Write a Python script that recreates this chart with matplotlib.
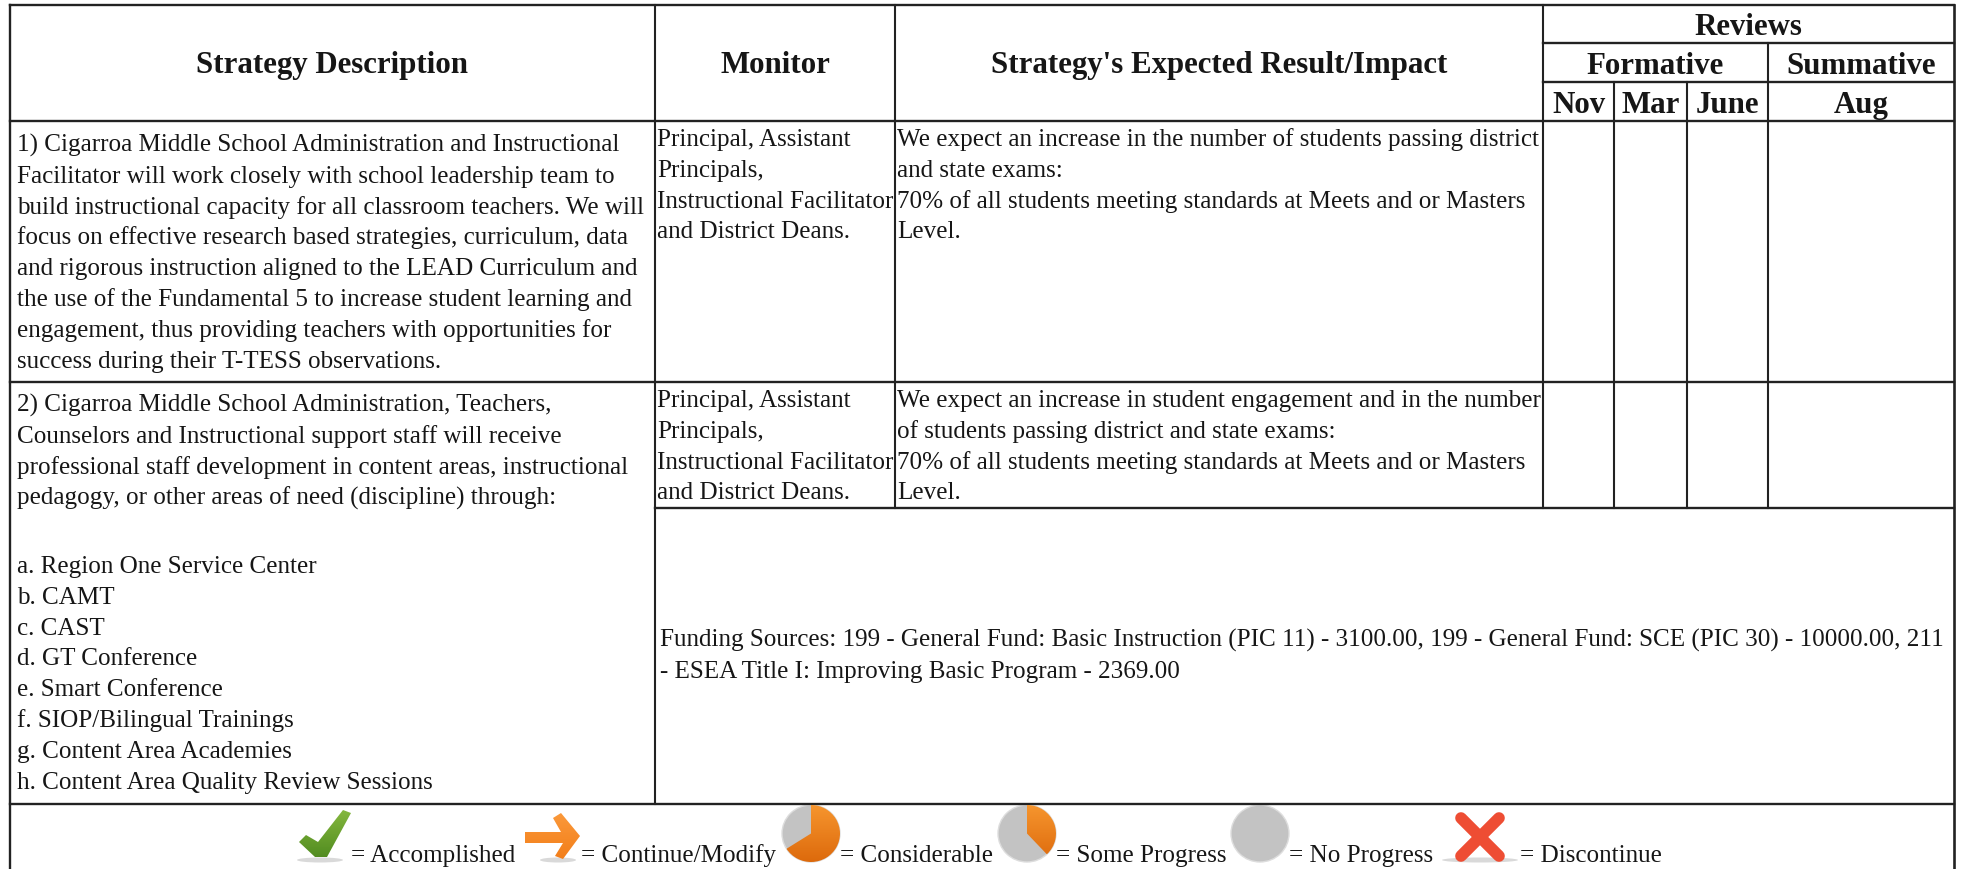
#!/usr/bin/env python
# -*- coding: utf-8 -*-
import numpy as np
import matplotlib
matplotlib.use('Agg')
import matplotlib.pyplot as plt
from matplotlib.colors import LinearSegmentedColormap
from matplotlib.patches import Ellipse, Wedge, Polygon
from matplotlib.transforms import Affine2D

W, H = 1961, 869

headers_main = ['Strategy Description', 'Monitor', "Strategy's Expected Result/Impact"]
header_reviews = 'Reviews'
header_groups = ['Formative', 'Summative']
header_months = ['Nov', 'Mar', 'June', 'Aug']

strategy_1 = [
    '1) Cigarroa Middle School Administration and Instructional',
    'Facilitator will work closely with school leadership team to',
    'build instructional capacity for all classroom teachers. We will',
    'focus on effective research based strategies, curriculum, data',
    'and rigorous instruction aligned to the LEAD Curriculum and',
    'the use of the Fundamental 5 to increase student learning and',
    'engagement, thus providing teachers with opportunities for',
    'success during their T-TESS observations.',
]
strategy_2 = [
    '2) Cigarroa Middle School Administration, Teachers,',
    'Counselors and Instructional support staff will receive',
    'professional staff development in content areas, instructional',
    'pedagogy, or other areas of need (discipline) through:',
]
strategy_2_list = [
    'a. Region One Service Center',
    'b. CAMT',
    'c. CAST',
    'd. GT Conference',
    'e. Smart Conference',
    'f. SIOP/Bilingual Trainings',
    'g. Content Area Academies',
    'h. Content Area Quality Review Sessions',
]
monitor = [
    'Principal, Assistant',
    'Principals,',
    'Instructional Facilitator',
    'and District Deans.',
]
impact_1 = [
    'We expect an increase in the number of students passing district',
    'and state exams:',
    '70% of all students meeting standards at Meets and or Masters',
    'Level.',
]
impact_2 = [
    'We expect an increase in student engagement and in the number',
    'of students passing district and state exams:',
    '70% of all students meeting standards at Meets and or Masters',
    'Level.',
]
funding = [
    'Funding Sources: 199 - General Fund: Basic Instruction (PIC 11) - 3100.00, 199 - General Fund: SCE (PIC 30) - 10000.00, 211',
    '- ESEA Title I: Improving Basic Program - 2369.00',
]
legend_labels = ['= Accomplished', '= Continue/Modify', '= Considerable',
                 '= Some Progress', '= No Progress', '= Discontinue']
pie_shares = [0.66, 0.38, 0.0]

# table grid, in pixels
X_LEFT, X_MON, X_IMP, X_REV, X_MAR, X_JUN, X_AUG, X_RIGHT = 10, 655, 895, 1543, 1614, 1687, 1768, 1954
Y_TOP, Y_REV, Y_FORM, Y_HEAD, Y_ROW1, Y_ROW2, Y_BOT = 5, 43, 82, 121, 382, 508, 804

BODY = 18.05
BOLD = 22.2
LEAD = 30.8
INK = '#161616'

plt.rcParams['font.family'] = ['Liberation Serif', 'DejaVu Serif']
fig = plt.figure(figsize=(W / 100, H / 100), dpi=100)
ax = fig.add_axes([0, 0, 1, 1])
ax.set_xlim(0, W)
ax.set_ylim(H, 0)
ax.axis('off')


def hline(y, x0, x1, lw=1.7):
    ax.plot([x0, x1], [y, y], color='#222222', lw=lw, solid_capstyle='projecting')


def vline(x, y0, y1, lw=1.5):
    ax.plot([x, x], [y0, y1], color='#222222', lw=lw, solid_capstyle='projecting')


def block(lines, x, y):
    for i, line in enumerate(lines):
        ax.text(x, y + i * LEAD, line, fontsize=BODY, color=INK, va='baseline', ha='left')


def bold(s, x, y):
    ax.text(x, y, s, fontsize=BOLD, fontweight='bold', color=INK, ha='center', va='baseline')


def grad_fill(patch, c_top, c_bot, box):
    # vertical gradient clipped to the patch
    x0, x1, y0, y1 = box
    cmap = LinearSegmentedColormap.from_list('g', [c_top, c_bot])
    ramp = np.linspace(0, 1, 64).reshape(-1, 1)
    patch.set_facecolor('none')
    patch.set_edgecolor('none')
    ax.add_patch(patch)
    im = ax.imshow(ramp, cmap=cmap, extent=(x0, x1, y1, y0), origin='upper', aspect='auto', zorder=2,
                   interpolation='bilinear')
    im.set_clip_path(patch)
    ax.set_xlim(0, W)
    ax.set_ylim(H, 0)


def shadow(x, y, w):
    ax.add_patch(Ellipse((x, y), w, 5, facecolor='#d0d0d0', edgecolor='none', alpha=0.8, zorder=1))


def check():
    shadow(320, 860, 46)
    pts = [(299, 842), (306, 835), (318, 842), (343, 810), (351, 813), (327, 857), (315, 857)]
    grad_fill(Polygon(pts, closed=True), '#86b93f', '#4f8a1f', (296, 354, 808, 860))


def arrow():
    shadow(558, 860, 36)
    pts = [(525, 832), (561, 832), (553, 818), (561, 813), (580, 836), (563, 859), (555, 856), (563, 843), (525, 843)]
    grad_fill(Polygon(pts, closed=True), '#fb9a3c', '#f27d18', (523, 582, 811, 861))


def pie(x, y, frac, w=58, h=57):
    # grey disc with an orange share going clockwise from the top
    ax.add_patch(Ellipse((x, y), w, h, facecolor='#c3c3c3', edgecolor='#dddddd', lw=1.0, zorder=1))
    if frac > 0:
        wedge = Wedge((0, 0), 1, -90, -90 + 360 * frac)
        wedge.set_transform(Affine2D().scale(w / 2, h / 2).translate(x, y) + ax.transData)
        grad_fill(wedge, '#f6952e', '#dd6a0c', (x - w / 2, x + w / 2, y - h / 2, y + h / 2))


def cross():
    shadow(1480, 860, 76)
    for x0, x1 in ((1461, 1499), (1499, 1461)):
        ax.plot([x0, x1], [818, 856], color='#ee4d33', lw=8.4, solid_capstyle='round', zorder=2)


# grid
hline(Y_TOP, X_LEFT, X_RIGHT)
hline(Y_REV, X_REV, X_RIGHT)
hline(Y_FORM, X_REV, X_RIGHT)
hline(Y_HEAD, X_LEFT, X_RIGHT)
hline(Y_ROW1, X_LEFT, X_RIGHT)
hline(Y_ROW2, X_MON, X_RIGHT)
hline(Y_BOT, X_LEFT, X_RIGHT)
vline(X_LEFT, Y_TOP, H, lw=1.7)
vline(X_RIGHT, Y_TOP, H, lw=1.9)
vline(X_MON, Y_TOP, Y_BOT)
vline(X_IMP, Y_TOP, Y_ROW2)
vline(X_REV, Y_TOP, Y_ROW2)
vline(X_AUG, Y_REV, Y_ROW2)
vline(X_MAR, Y_FORM, Y_ROW2)
vline(X_JUN, Y_FORM, Y_ROW2)

# header
bold(headers_main[0], (X_LEFT + X_MON) / 2, 73)
bold(headers_main[1], (X_MON + X_IMP) / 2, 73)
bold(headers_main[2], (X_IMP + X_REV) / 2, 73)
bold(header_reviews, (X_REV + X_RIGHT) / 2, 35)
bold(header_groups[0], (X_REV + X_AUG) / 2, 74)
bold(header_groups[1], (X_AUG + X_RIGHT) / 2, 74)
month_centers = [(X_REV + X_MAR) / 2, (X_MAR + X_JUN) / 2, (X_JUN + X_AUG) / 2, (X_AUG + X_RIGHT) / 2]
for m, cx in zip(header_months, month_centers):
    bold(m, cx, 113)

# body text
block(strategy_1, 17, 152)
block(strategy_2, 17, 412)
block(strategy_2_list, 17, 573)
block(monitor, 657, 146)
block(monitor, 657, 407)
block(impact_1, 897, 146)
block(impact_2, 897, 407)
block(funding, 660, 647)

# legend
label_x = [351, 581, 840, 1056, 1289, 1520]
for s, x in zip(legend_labels, label_x):
    ax.text(x, 862, s, fontsize=BODY, color=INK, ha='left', va='baseline')
check()
arrow()
for cx, share in zip([811, 1027, 1260], pie_shares):
    pie(cx, 833.5, share)
cross()

fig.savefig('out.png', dpi=100)
